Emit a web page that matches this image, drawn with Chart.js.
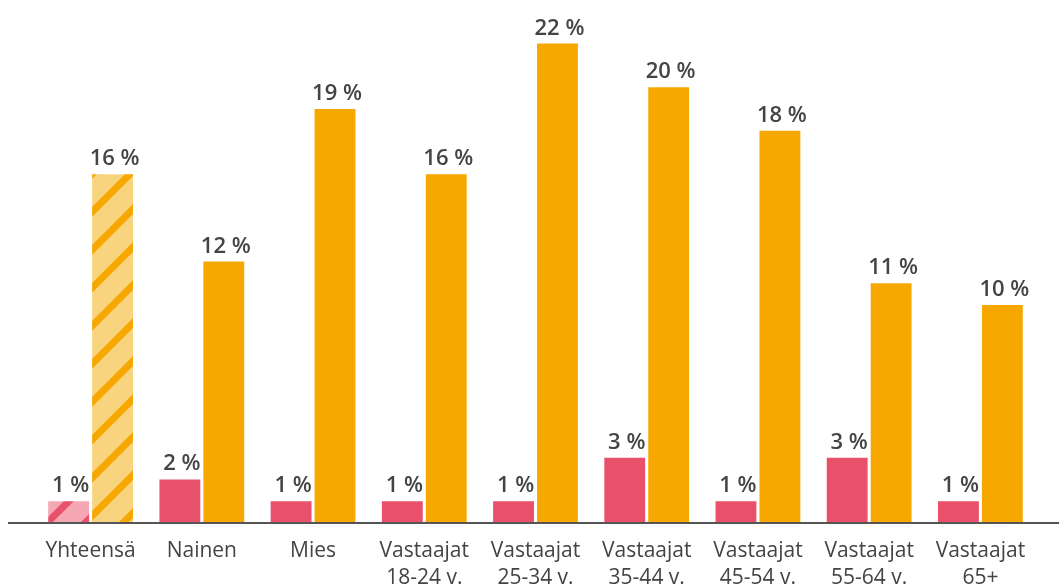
<!DOCTYPE html>
<html>
<head>
<meta charset="utf-8">
<script src="https://cdn.jsdelivr.net/npm/chart.js@4/dist/chart.umd.min.js"></script>
<style>
  html, body { margin: 0; padding: 0; background: #fff; }
  #wrap { width: 1059px; height: 585px; position: relative; }
</style>
</head>
<body>
<div id="wrap"><canvas id="chart"></canvas></div>
<script>
const categories = [
  'Yhteensä',
  'Nainen',
  'Mies',
  ['Vastaajat', '18-24 v.'],
  ['Vastaajat', '25-34 v.'],
  ['Vastaajat', '35-44 v.'],
  ['Vastaajat', '45-54 v.'],
  ['Vastaajat', '55-64 v.'],
  ['Vastaajat', '65+']
];
const pinkValues = [1, 2, 1, 1, 1, 3, 1, 3, 1];
const orangeValues = [16, 12, 19, 16, 22, 20, 18, 11, 10];

const PINK = '#e9516a';
const ORANGE = '#f6a800';
const TEXT = '#444444';

// diagonal stripes for the "Yhteensä" bars
function stripes(bg, fg){
  const c = document.createElement('canvas');
  const s = 38;
  c.width = s; c.height = s;
  const x = c.getContext('2d');
  x.fillStyle = bg;
  x.fillRect(0, 0, s, s);
  x.strokeStyle = fg;
  x.lineWidth = 7;
  x.beginPath();
  for (let k = -1; k <= 1; k++) {
    x.moveTo(k * s - 2, s + 2);
    x.lineTo(k * s + s + 2, -2);
  }
  x.stroke();
  return x.createPattern(c, 'repeat');
}

const pinkColors = pinkValues.map((v, i) => i === 0 ? stripes('#f5a8b4', PINK) : PINK);
const orangeColors = orangeValues.map((v, i) => i === 0 ? stripes('#f9d47e', ORANGE) : ORANGE);

const valueLabels = {
  id: 'valueLabels',
  afterDatasetsDraw(chart){
    const ctx = chart.ctx;
    ctx.save();
    ctx.font = '600 22px "Open Sans"';
    ctx.fillStyle = TEXT;
    ctx.textAlign = 'center';
    ctx.textBaseline = 'alphabetic';
    chart.data.datasets.forEach((ds, di) => {
      chart.getDatasetMeta(di).data.forEach((bar, i) => {
        ctx.fillText(ds.data[i] + ' %', bar.x + 2, bar.y - 9);
      });
    });
    ctx.restore();
  }
};

const baseLine = {
  id: 'baseLine',
  afterDatasetsDraw(chart){
    const ctx = chart.ctx;
    const y = chart.chartArea.bottom;
    ctx.save();
    ctx.strokeStyle = '#555555';
    ctx.lineWidth = 2;
    ctx.beginPath();
    ctx.moveTo(8, y);
    ctx.lineTo(chart.width, y);
    ctx.stroke();
    ctx.restore();
  }
};

const data = {
  labels: categories,
  datasets: [
    {
      label: 'a',
      data: pinkValues,
      backgroundColor: pinkColors,
      categoryPercentage: 0.79,
      barPercentage: 0.93
    },
    {
      label: 'b',
      data: orangeValues,
      backgroundColor: orangeColors,
      categoryPercentage: 0.79,
      barPercentage: 0.93
    }
  ]
};

const config = {
  type: 'bar',
  data,
  options: {
    responsive: true,
    maintainAspectRatio: false,
    animation: false,
    layout: { padding: { left: 35, right: 23, top: 0, bottom: 0 } },
    plugins: {
      legend: { display: false },
      tooltip: { enabled: false }
    },
    scales: {
      x: {
        grid: { display: false },
        border: { display: false },
        ticks: {
          color: TEXT,
          font: { family: '"Open Sans"', size: 21, lineHeight: 1.3 },
          padding: 6,
          maxRotation: 0,
          autoSkip: false
        },
        afterFit(scale){ scale.height = 62; }
      },
      y: {
        display: false,
        min: 0,
        max: 24
      }
    }
  },
  plugins: [valueLabels, baseLine]
};

var myChart = new Chart(document.getElementById('chart'), config);
</script>
</body>
</html>
